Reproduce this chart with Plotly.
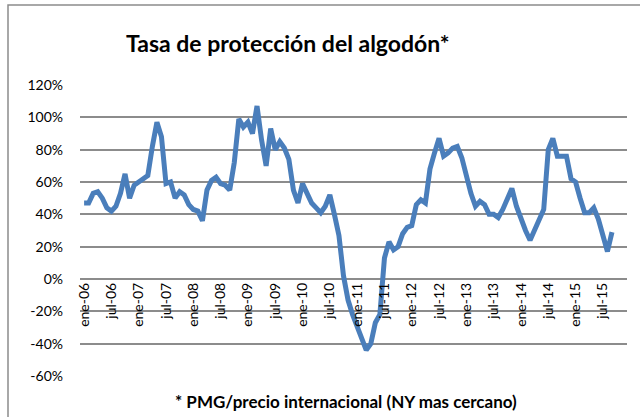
import plotly.graph_objects as go

# Monthly values, ene-06 .. sep-15 (percent)
tasa = [47, 47, 53, 54, 50, 44, 42, 45, 53, 65, 50, 58,
        60, 62, 64, 82, 97, 88, 59, 60, 50, 54, 52, 46,
        43, 42, 36, 55, 61, 63, 59, 58, 55, 72, 99, 94,
        97, 90, 107, 86, 70, 93, 80, 85, 81, 74, 55, 47,
        59, 53, 47, 44, 41, 45, 52, 40, 27, 2, -13, -22,
        -30, -38, -44, -40, -27, -22, 13, 23, 18, 20, 28, 32,
        33, 46, 49, 47, 68, 78, 87, 76, 78, 81, 82, 75,
        63, 53, 45, 48, 46, 40, 40, 38, 43, 49, 56, 45,
        37, 30, 24, 30, 36, 43, 80, 87, 76, 76, 76, 62,
        60, 50, 41, 41, 44, 37, 28, 17, 29]
meses = list(range(len(tasa)))

x_tick_pos = list(range(0, 115, 6))
x_tick_labels = ["ene-06", "jul-06", "ene-07", "jul-07", "ene-08", "jul-08",
                 "ene-09", "jul-09", "ene-10", "jul-10", "ene-11", "jul-11",
                 "ene-12", "jul-12", "ene-13", "jul-13", "ene-14", "jul-14",
                 "ene-15", "jul-15"]
y_tick_vals = [-60, -40, -20, 0, 20, 40, 60, 80, 100, 120]
y_tick_labels = ["-60%", "-40%", "-20%", "0%", "20%", "40%", "60%", "80%", "100%", "120%"]

titulo = "Tasa de protección del algodón*"
nota = "* PMG/precio internacional (NY mas cercano)"

W, H = 640, 417
L, R, T, B = 80, 13, 85, 41
pw, ph = W - L - R, H - T - B

def px(xp):
    return (xp - L) / pw

def py(yp):
    return (H - B - yp) / ph

fig = go.Figure()
fig.add_trace(go.Scatter(
    x=meses, y=tasa, mode="lines",
    line=dict(color="#4a7ebb", width=5),
    hoverinfo="skip", showlegend=False,
))

fig.update_layout(
    width=W, height=H,
    margin=dict(l=L, r=R, t=T, b=B, autoexpand=False),
    paper_bgcolor="white", plot_bgcolor="white",
    font=dict(family="Lato", color="#000000"),
    xaxis=dict(
        range=[-0.9, 119.3],
        tickmode="array", tickvals=x_tick_pos, ticktext=x_tick_labels,
        tickangle=-90, tickfont=dict(size=14, family="Lato", color="#000"),
        showgrid=False, zeroline=False, showline=False, ticks="",
        anchor="free", position=60 / 180,
    ),
    yaxis=dict(
        range=[-60, 120],
        tickmode="array", tickvals=y_tick_vals, ticktext=y_tick_labels,
        tickfont=dict(size=14, family="Lato", color="#000"),
        showgrid=True, gridcolor="#8c8c8c", gridwidth=1.5,
        zeroline=False, showline=False, ticks="",
        ticklabelstandoff=16,
    ),
    shapes=[dict(type="rect", xref="paper", yref="paper",
                 x0=px(8), x1=px(700), y0=py(5), y1=py(480),
                 line=dict(color="#8c8c8c", width=1.5), layer="below")],
    annotations=[
        dict(text="<b>" + titulo + "</b>", xref="paper", yref="paper",
             x=px(288), y=py(43), xanchor="center", yanchor="middle",
             showarrow=False, font=dict(size=23, family="Lato", color="#000")),
        dict(text="<b>" + nota + "</b>", xref="paper", yref="paper",
             x=px(346), y=py(401), xanchor="center", yanchor="middle",
             showarrow=False, font=dict(size=17, family="Lato", color="#000")),
    ],
)

fig.write_html(
    "out.html",
    config={"displayModeBar": False},
    post_script="document.body.style.margin='0';document.body.style.overflow='hidden';",
)
